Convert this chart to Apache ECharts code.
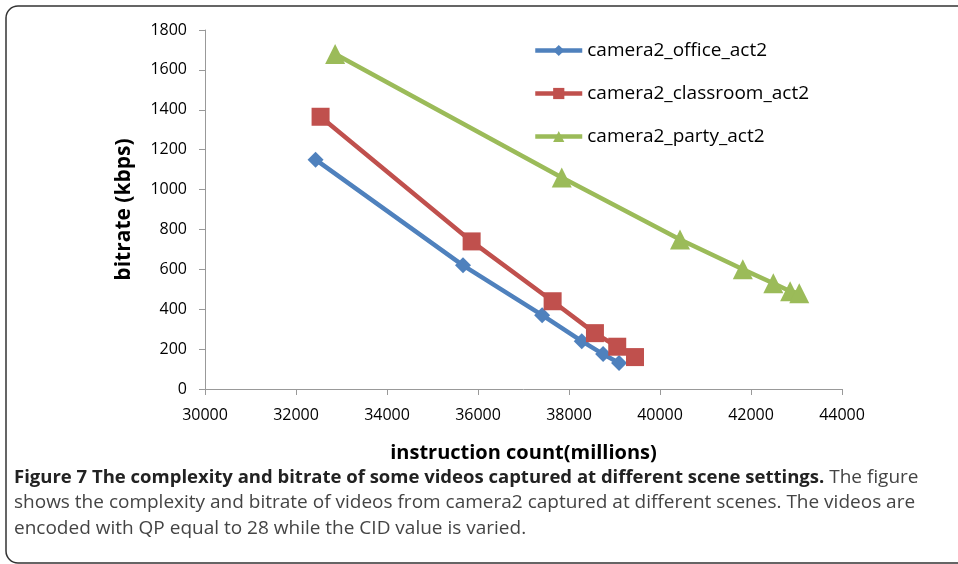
<!DOCTYPE html>
<html><head><meta charset="utf-8">
<script src="https://cdn.jsdelivr.net/npm/echarts@6/dist/echarts.min.js"></script>
<style>html,body{margin:0;padding:0;background:#fff;}#c{width:958px;height:564px;}</style>
</head><body><div id="c"></div>
<script>
const seriesNames = ['camera2_office_act2','camera2_classroom_act2','camera2_party_act2'];
const officeX = [32430, 35670, 37410, 38280, 38750, 39100];
const officeY = [1150, 620, 370, 240, 175, 130];
const classroomX = [32540, 35860, 37640, 38570, 39060, 39450];
const classroomY = [1365, 740, 440, 280, 212, 160];
const partyX = [32860, 37840, 40440, 41820, 42490, 42860, 43060];
const partyY = [1680, 1060, 750, 600, 530, 490, 480];
const xTicks = [30000, 44000, 2000];
const yTicks = [0, 1800, 200];

const zip = (a,b)=>a.map((v,i)=>[v,b[i]]);
const colors = ['#4F81BD','#C0504D','#9BBB59'];
const symbols = ['diamond','rect','triangle'];
const sizes = [16,18,20];
const datas = [zip(officeX,officeY), zip(classroomX,classroomY), zip(partyX,partyY)];
const font = '"Open Sans","Noto Sans",sans-serif';

const chart = echarts.init(document.getElementById('c'));
chart.setOption({
  animation:false,
  backgroundColor:'#fff',
  textStyle:{fontFamily:font},
  grid:{left:205,right:116,top:30,bottom:175},
  legend:{
    orient:'vertical', left:528, top:36, itemGap:24, itemWidth:47, itemHeight:14,
    textStyle:{fontSize:19,color:'#000',fontFamily:font},
    lineStyle:{width:4.5},
    data:seriesNames
  },
  xAxis:{
    type:'value', min:xTicks[0], max:xTicks[1], interval:xTicks[2],
    name:'instruction count(millions)', nameLocation:'middle', nameGap:54,
    nameTextStyle:{fontSize:20,fontWeight:'bold',color:'#000'},
    axisLine:{lineStyle:{color:'#999'}},
    axisTick:{show:true,length:6,lineStyle:{color:'#999'}},
    axisLabel:{fontSize:16,color:'#000',margin:18,formatter:v=>String(v)},
    splitLine:{show:false}
  },
  yAxis:{
    type:'value', min:yTicks[0], max:yTicks[1], interval:yTicks[2],
    name:'bitrate (kbps)', nameLocation:'middle', nameGap:70,
    nameTextStyle:{fontSize:21,fontWeight:'bold',color:'#000'},
    axisLine:{show:true,lineStyle:{color:'#999'}},
    axisTick:{show:true,length:6,lineStyle:{color:'#999'}},
    axisLabel:{fontSize:16,color:'#000',margin:18,formatter:v=>String(v)},
    splitLine:{show:false}
  },
  series: seriesNames.map((n,i)=>({
    name:n, type:'line', data:datas[i], symbol:symbols[i], symbolSize:sizes[i],
    showAllSymbol:true,
    lineStyle:{color:colors[i],width:4.5},
    itemStyle:{color:colors[i]}
  })),
  graphic:[
    {type:'rect', shape:{x:6,y:6,width:1000,height:557,r:12}, style:{fill:'none',stroke:'#333',lineWidth:1.5}, z:-1},
    {type:'text', left:14, top:468, style:{
      text:'{b|Figure 7 The complexity and bitrate of some videos captured at different scene settings.}{n| The figure}\n{n|shows the complexity and bitrate of videos from camera2 captured at different scenes. The videos are}\n{n|encoded with QP equal to 28 while the CID value is varied.}',
      rich:{
        b:{fontSize:18.5,fontWeight:'bold',fill:'#222',fontFamily:font,lineHeight:25.5},
        n:{fontSize:19,fill:'#444',fontFamily:font,lineHeight:25.5}
      }
    }}
  ]
});
</script></body></html>
